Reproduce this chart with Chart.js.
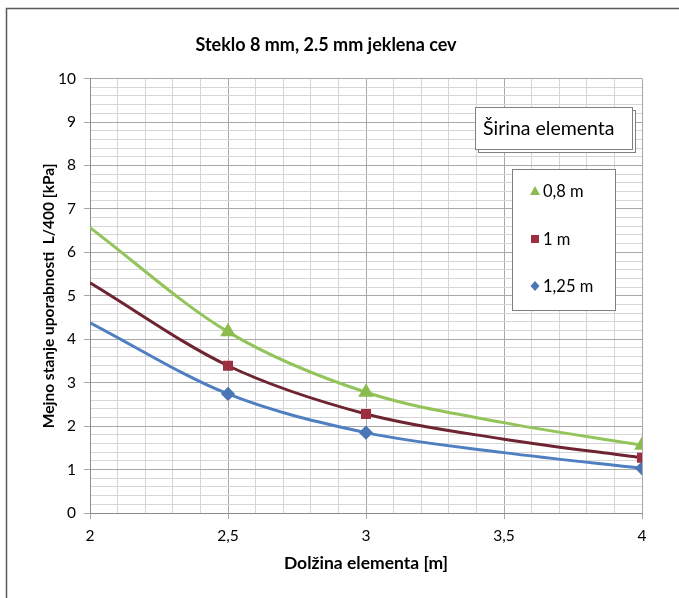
<!DOCTYPE html>
<html>
<head>
<meta charset="utf-8">
<script src="https://cdn.jsdelivr.net/npm/chart.js@4.4.1/dist/chart.umd.min.js"></script>
<style>
  body { margin: 0; background: #fff; }
</style>
</head>
<body>
<canvas id="steklo" width="679" height="598"></canvas>
<script>
const lengths = [2, 2.5, 3, 3.5, 4];
const seriesLabels = ["0,8 m", "1 m", "1,25 m"];
const width08 = [6.57, 4.17, 2.78, 2.08, 1.56];
const width10 = [5.30, 3.39, 2.28, 1.70, 1.27];
const width125 = [4.38, 2.74, 1.85, 1.39, 1.03];
// markers only where Excel had data points
const markerShown = [false, true, true, false, true];

const FONT = "Lato, 'Open Sans', sans-serif";

function toXY(values) {
    return lengths.map((x, i) => ({ x: x, y: values[i] }));
}

function radii(r) {
    return markerShown.map((m) => (m ? r : 0));
}

const isMajor = (v, step) => Math.abs(v / step - Math.round(v / step)) < 1e-6;

const legendPlugin = {
    id: "excelLegend",
    beforeDraw(chart) {
        const ctx = chart.ctx;
        ctx.save();
        ctx.fillStyle = "#fff";
        ctx.fillRect(0, 0, chart.width, chart.height);
        // frame of the embedded object
        ctx.strokeStyle = "#5a5a5a";
        ctx.lineWidth = 1.5;
        ctx.beginPath();
        ctx.moveTo(6.5, chart.height);
        ctx.lineTo(6.5, 8.5);
        ctx.lineTo(chart.width, 8.5);
        ctx.stroke();
        ctx.restore();
    },
    afterDraw(chart) {
        const ctx = chart.ctx;
        ctx.save();
        ctx.lineWidth = 1;

        // legend title box with its shadow
        ctx.fillStyle = "#fff";
        ctx.strokeStyle = "#808080";
        ctx.fillRect(478.5, 110.5, 157, 42);
        ctx.strokeRect(478.5, 110.5, 157, 42);
        ctx.fillRect(475.5, 107.5, 157, 42);
        ctx.strokeRect(475.5, 107.5, 157, 42);
        ctx.fillStyle = "#000";
        ctx.font = "19.5px " + FONT;
        ctx.textBaseline = "middle";
        ctx.textAlign = "left";
        ctx.fillText("Širina elementa", 483, 129);

        // legend entries
        ctx.fillStyle = "#fff";
        ctx.strokeStyle = "#808080";
        ctx.fillRect(512.5, 169.5, 103, 141);
        ctx.strokeRect(512.5, 169.5, 103, 141);

        const rows = [191, 239, 286];
        chart.data.datasets.forEach((ds, i) => {
            const y = rows[i];
            const x = 535;
            ctx.fillStyle = ds.pointBackgroundColor;
            ctx.beginPath();
            if (ds.pointStyle === "triangle") {
                ctx.moveTo(x, y - 5);
                ctx.lineTo(x + 5, y + 4);
                ctx.lineTo(x - 5, y + 4);
            } else if (ds.pointStyle === "rect") {
                ctx.rect(x - 4, y - 4, 8, 8);
            } else {
                ctx.moveTo(x, y - 5);
                ctx.lineTo(x + 4.5, y);
                ctx.lineTo(x, y + 5);
                ctx.lineTo(x - 4.5, y);
            }
            ctx.closePath();
            ctx.fill();
            ctx.fillStyle = "#000";
            ctx.font = "16.5px " + FONT;
            ctx.fillText(ds.label, 543, y + 1);
        });
        ctx.restore();
    },
};

const steklo = new Chart("steklo", {
    type: "line",
    data: {
        datasets: [
            {
                label: seriesLabels[0],
                data: toXY(width08),
                borderColor: "#92c45a",
                pointBackgroundColor: "#8cbb4f",
                pointBorderColor: "#8cbb4f",
                pointStyle: "triangle",
                pointRadius: radii(6),
                borderWidth: 3,
                cubicInterpolationMode: "monotone",
            },
            {
                label: seriesLabels[1],
                data: toXY(width10),
                borderColor: "#6e2431",
                pointBackgroundColor: "#9b2f40",
                pointBorderColor: "#9b2f40",
                pointStyle: "rect",
                pointRadius: radii(5),
                borderWidth: 3,
                cubicInterpolationMode: "monotone",
            },
            {
                label: seriesLabels[2],
                data: toXY(width125),
                borderColor: "#4f7fc0",
                pointBackgroundColor: "#4a76b5",
                pointBorderColor: "#4a76b5",
                pointStyle: "rectRot",
                pointRadius: radii(5),
                borderWidth: 3,
                cubicInterpolationMode: "monotone",
            },
        ],
    },
    options: {
        responsive: false,
        animation: false,
        layout: { padding: { left: 10, right: 37, top: 10, bottom: 10 } },
        plugins: {
            legend: { display: false },
            tooltip: { enabled: false },
            title: {
                display: true,
                text: "Steklo 8 mm, 2.5 mm jeklena cev",
                color: "#000",
                font: { family: FONT, size: 18, weight: "bold" },
                padding: { top: 24, bottom: 23 },
            },
        },
        scales: {
            x: {
                type: "linear",
                min: 2,
                max: 4,
                afterFit: (scale) => { scale.height = 75; },
                ticks: {
                    stepSize: 0.1,
                    autoSkip: false,
                    maxRotation: 0,
                    padding: 8,
                    color: "#000",
                    font: { family: FONT, size: 15.5 },
                    callback: (v) => (isMajor(v, 0.5) ? String(v).replace(".", ",") : ""),
                },
                grid: {
                    color: (c) => (isMajor(c.tick.value, 0.5) ? "#a8a8a8" : "#d6d6d6"),
                    tickColor: (c) => (isMajor(c.tick.value, 0.5) ? "#a8a8a8" : "rgba(0,0,0,0)"),
                    tickLength: 6,
                },
                border: { color: "#8c8c8c" },
                title: {
                    display: true,
                    text: "Dolžina elementa [m]",
                    color: "#000",
                    font: { family: FONT, size: 17.5, weight: "bold" },
                    padding: { top: 0, bottom: 14 },
                },
            },
            y: {
                min: 0,
                max: 10,
                afterFit: (scale) => { scale.width = 80; },
                ticks: {
                    stepSize: 0.2,
                    autoSkip: false,
                    padding: 8,
                    color: "#000",
                    font: { family: FONT, size: 15.5 },
                    callback: (v) => (isMajor(v, 1) ? String(Math.round(v)) : ""),
                },
                grid: {
                    color: (c) => (isMajor(c.tick.value, 1) ? "#a8a8a8" : "#d6d6d6"),
                    tickColor: (c) => (isMajor(c.tick.value, 1) ? "#a8a8a8" : "rgba(0,0,0,0)"),
                    tickLength: 6,
                },
                border: { color: "#8c8c8c" },
                title: {
                    display: true,
                    text: "Mejno stanje uporabnosti  L/400 [kPa]",
                    color: "#000",
                    font: { family: FONT, size: 15.5, weight: "bold" },
                    padding: { top: 30, bottom: 0 },
                },
            },
        },
    },
    plugins: [legendPlugin],
});
</script>
</body>
</html>
